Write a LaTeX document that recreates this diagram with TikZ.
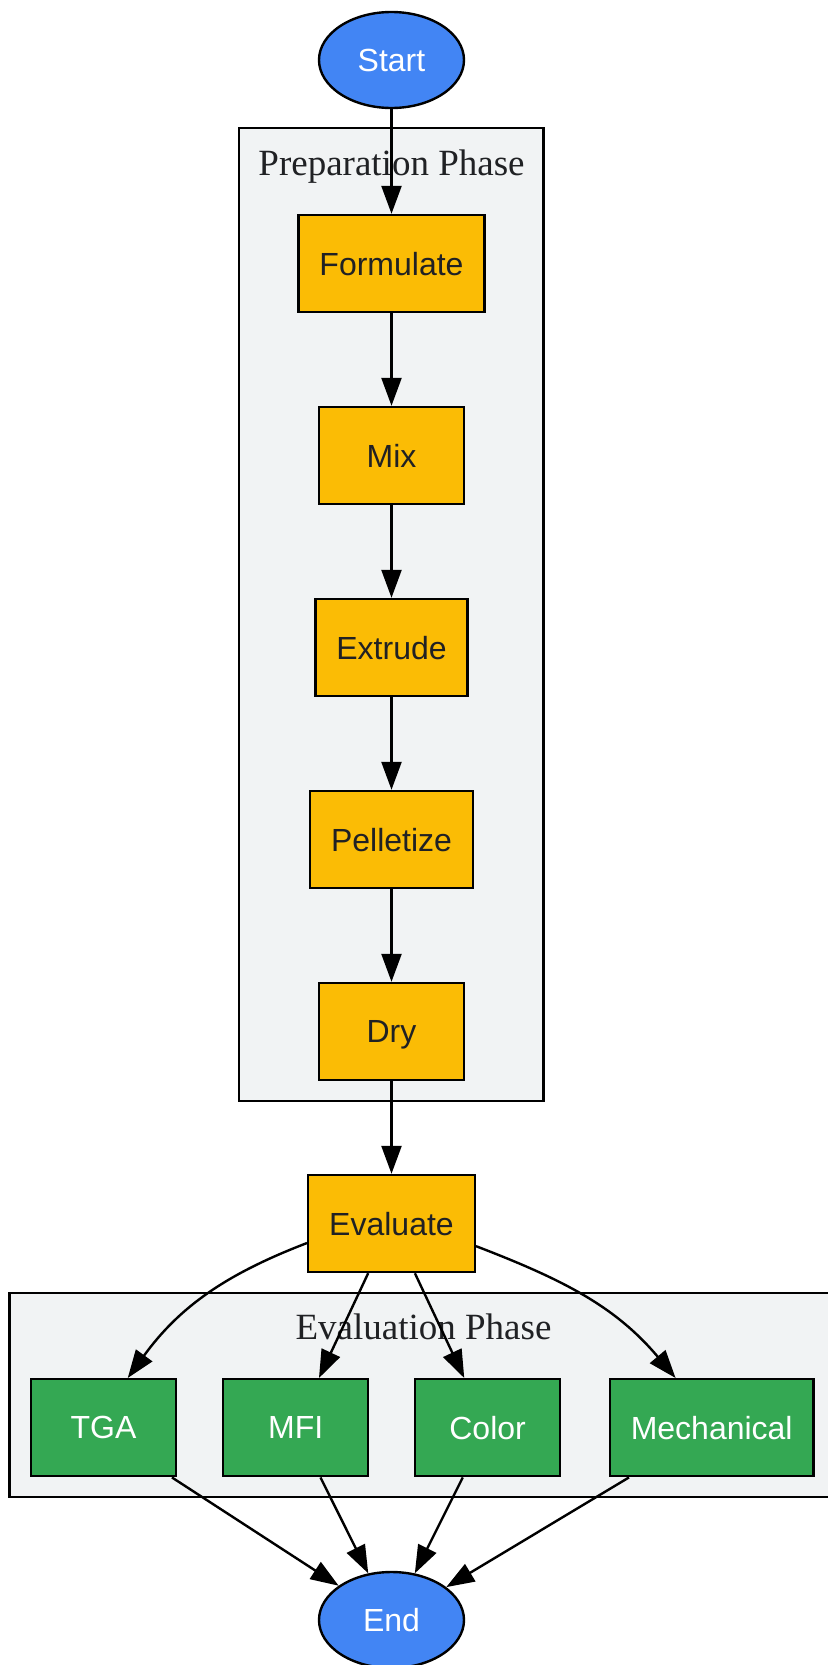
\documentclass[tikz,border=0pt]{standalone}
\usepackage{fontspec}
\setmainfont{Liberation Serif}
\setsansfont{Liberation Sans}
\usepackage{tikz}
\usetikzlibrary{arrows.meta,shapes.geometric}
\definecolor{gblue}{HTML}{4285F4}
\definecolor{gyellow}{HTML}{FBBC05}
\definecolor{ggreen}{HTML}{34A853}
\definecolor{clusterbg}{HTML}{F1F3F4}
\definecolor{darktext}{HTML}{202124}
\tikzset{term/.style={ellipse, draw=black, line width=1.2pt, fill=gblue, text=white, inner sep=0pt, text depth=0pt,
  minimum width=72.5pt, minimum height=48pt, font=\sffamily\fontsize{16}{19}\selectfont},
stagebox/.style={rectangle, draw=black, line width=1.2pt, fill=gyellow, text=darktext, inner xsep=10.5pt, text depth=0pt,
  minimum width=72.5pt, minimum height=48.5pt, font=\sffamily\fontsize{16}{19}\selectfont},
testbox/.style={stagebox, fill=ggreen, text=white},
cluster/.style={draw=black, line width=1.2pt, fill=clusterbg},
clusterlabel/.style={text=darktext, inner sep=0pt, anchor=base, font=\fontsize{18.5}{22}\selectfont},
edge/.style={line width=1.2pt, -{Triangle[length=14pt,width=10pt]}}}

\begin{document}
\begin{tikzpicture}[x=0.5pt, y=0.5pt]
\useasboundingbox (0,0) rectangle (828,-1665);
% clusters
\draw[cluster] (239,-128) rectangle (543.5,-1101);
\node[clusterlabel] (preplabel) at (391.5,-175) {Preparation Phase};
\draw[cluster] (9.5,-1293) rectangle (838,-1497);
\node[clusterlabel] (evallabel) at (423.5,-1339.3) {Evaluation Phase};
% preparation chain
\node[term] (start) at (391.5,-60) {Start};
\node[stagebox] (formulate) at (391.5,-263.5) {Formulate};
\node[stagebox] (mix) at (391.5,-455.5) {Mix};
\node[stagebox] (extrude) at (391.5,-647.5) {Extrude};
\node[stagebox] (pelletize) at (391.5,-839.5) {Pelletize};
\node[stagebox] (dry) at (391.5,-1031.5) {Dry};
\node[stagebox] (evaluate) at (391.5,-1223.5) {Evaluate};
% tests
\node[testbox] (tga) at (103.5,-1427.7) {TGA};
\node[testbox] (mfi) at (295.7,-1427.7) {MFI};
\node[testbox] (color) at (487.6,-1427.7) {Color};
\node[testbox] (mechanical) at (711.7,-1427.7) {Mechanical};
\node[term] (end) at (391.5,-1620) {End};
% edges
\draw[edge] (start) -- (formulate);
\draw[edge] (formulate) -- (mix);
\draw[edge] (mix) -- (extrude);
\draw[edge] (extrude) -- (pelletize);
\draw[edge] (pelletize) -- (dry);
\draw[edge] (dry) -- (evaluate);
\draw[edge] (evaluate.193) to[out=201,in=54] (tga.64);
\draw[edge] (evaluate) -- (mfi);
\draw[edge] (evaluate) -- (color);
\draw[edge] (evaluate.-15) to[out=-21,in=130] (mechanical.126);
\draw[edge] (tga.-36) -- (end);
\draw[edge] (mfi) -- (end);
\draw[edge] (color) -- (end);
\draw[edge] (mechanical) -- (end);
\end{tikzpicture}
\end{document}
